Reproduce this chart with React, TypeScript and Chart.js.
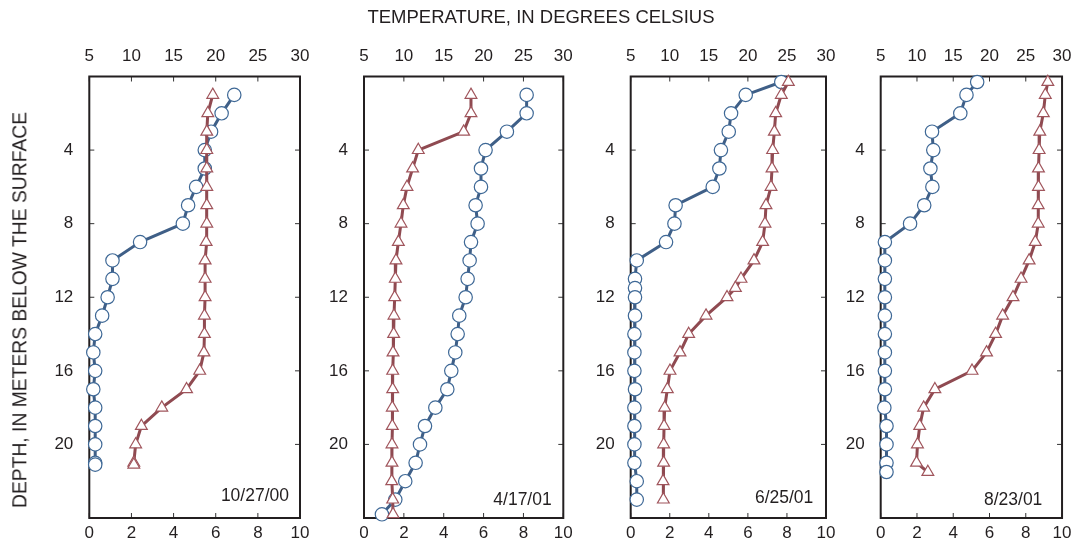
import React, { useEffect, useRef } from "react";
import { Chart, registerables } from "chart.js";
Chart.register(...registerables);

// ---- data ----
const dates = ["10/27/00", "4/17/01", "6/25/01", "8/23/01"];
const oxygenTicks = [0, 2, 4, 6, 8, 10];
const tempTicks = [5, 10, 15, 20, 25, 30];
const depthTicks = [4, 8, 12, 16, 20];

// Panel 1: 10/27/00
const depth1 = [1, 2, 3, 4, 5, 6, 7, 8, 9, 10, 11, 12, 13, 14, 15, 16, 17, 18, 19, 20, 21, 21.1];
const oxygen1 = [6.88, 6.28, 5.78, 5.48, 5.48, 5.07, 4.69, 4.44, 2.41, 1.1, 1.1, 0.87, 0.61, 0.28, 0.19, 0.28, 0.19, 0.28, 0.28, 0.28, 0.28, 0.28];
const temp1 = [19.65, 19.06, 18.94, 18.94, 18.94, 18.94, 18.94, 18.94, 18.86, 18.74, 18.74, 18.74, 18.66, 18.66, 18.6, 18.1, 16.54, 13.6, 11.18, 10.5, 10.28, 10.28];

// Panel 2: 4/17/01
const depth2 = [1, 2, 3, 4, 5, 6, 7, 8, 9, 10, 11, 12, 13, 14, 15, 16, 17, 18, 19, 20, 21, 22, 23, 23.8];
const oxygen2 = [8.16, 8.16, 7.17, 6.1, 5.87, 5.87, 5.6, 5.7, 5.37, 5.3, 5.2, 5.1, 4.78, 4.7, 4.58, 4.38, 4.18, 3.58, 3.06, 2.81, 2.59, 2.07, 1.57, 0.9];
const temp2 = [18.42, 18.42, 17.5, 11.81, 11.1, 10.39, 9.93, 9.64, 9.31, 9.01, 8.93, 8.85, 8.76, 8.72, 8.64, 8.6, 8.6, 8.55, 8.55, 8.51, 8.51, 8.48, 8.6, 8.64];

// Panel 3: 6/25/01
const depth3 = [0.3, 1, 2, 3, 4, 5, 6, 7, 8, 9, 10, 11, 11.5, 12, 13, 14, 15, 16, 17, 18, 19, 20, 21, 22, 23];
const oxygen3 = [7.71, 5.89, 5.14, 5.02, 4.62, 4.54, 4.2, 2.3, 2.24, 1.81, 0.31, 0.22, 0.22, 0.22, 0.22, 0.19, 0.19, 0.19, 0.22, 0.19, 0.19, 0.19, 0.19, 0.31, 0.31];
const temp3 = [25.18, 24.28, 23.56, 23.39, 23.17, 23.09, 22.96, 22.32, 22.19, 21.89, 20.78, 19.12, 18.4, 17.33, 14.64, 12.42, 11.31, 10.03, 9.69, 9.35, 9.27, 9.22, 9.22, 9.14, 9.18];

// Panel 4: 8/23/01
const depth4 = [0.3, 1, 2, 3, 4, 5, 6, 7, 8, 9, 10, 11, 12, 13, 14, 15, 16, 17, 18, 19, 20, 21, 21.5];
const oxygen4 = [5.32, 4.73, 4.39, 2.83, 2.9, 2.74, 2.85, 2.4, 1.62, 0.23, 0.23, 0.23, 0.23, 0.23, 0.23, 0.23, 0.23, 0.23, 0.2, 0.32, 0.32, 0.32, 0.32];
const temp4 = [28.04, 27.69, 27.42, 26.93, 26.84, 26.75, 26.75, 26.71, 26.71, 26.31, 25.46, 24.35, 23.24, 21.81, 20.84, 19.59, 17.59, 12.47, 10.92, 10.38, 10.07, 9.94, 11.5];

const depths = [depth1, depth2, depth3, depth4];
const oxygens = [oxygen1, oxygen2, oxygen3, oxygen4];
const temps = [temp1, temp2, temp3, temp4];

// ---- layout (plot-area boxes in page pixels) ----
const W = 1081;
const H = 546;
const Y_AXIS_W = 60;
const TOP_AXIS_H = 40;
const BOTTOM_AXIS_H = 27;
const boxes = [
  { left: 89.3, right: 300, top: 76.5, bottom: 518, labelInset: 11, labelUp: 22 },
  { left: 364, right: 563.3, top: 76.5, bottom: 518, labelInset: 11.6, labelUp: 18 },
  { left: 630.7, right: 826, top: 76.5, bottom: 518, labelInset: 12.7, labelUp: 19.7 },
  { left: 880.7, right: 1068, top: 76.5, bottom: 518, labelInset: 19.7, labelUp: 18 },
];

const FONT = "'Liberation Sans', Arial, Helvetica, sans-serif";
const INK = "#231f20";
const BLUE_LINE = "#3f5f87";
const BLUE_PT = "#3e6896";
const RED_LINE = "#8f4a51";
const RED_PT = "#a0555c";

const framePlugin = {
  id: "frame",
  beforeDatasetsDraw(chart: any, _args: any, opts: any) {
    const { ctx, chartArea: a, scales } = chart;
    ctx.save();
    const L = 5;
    ctx.strokeStyle = "#333";
    ctx.lineWidth = 1;
    ctx.beginPath();
    scales.x.ticks.forEach((t: any) => {
      const px = scales.x.getPixelForValue(t.value);
      ctx.moveTo(px, a.bottom);
      ctx.lineTo(px, a.bottom - L);
    });
    scales.x2.ticks.forEach((t: any) => {
      const px = scales.x2.getPixelForValue(t.value);
      ctx.moveTo(px, a.top);
      ctx.lineTo(px, a.top + L);
    });
    scales.y.ticks.forEach((t: any) => {
      const py = scales.y.getPixelForValue(t.value);
      ctx.moveTo(a.left, py);
      ctx.lineTo(a.left + L, py);
      ctx.moveTo(a.right, py);
      ctx.lineTo(a.right - L, py);
    });
    ctx.stroke();
    ctx.strokeStyle = INK;
    ctx.lineWidth = 2;
    ctx.strokeRect(a.left, a.top, a.right - a.left, a.bottom - a.top);
    ctx.fillStyle = INK;
    ctx.font = `17.5px ${FONT}`;
    ctx.textAlign = "right";
    ctx.textBaseline = "middle";
    ctx.fillText(opts.label, a.right - opts.inset, a.bottom - opts.up);
    ctx.restore();
  },
};

function Panel({ idx }: { idx: number }) {
  const ref = useRef<HTMLCanvasElement>(null);
  useEffect(() => {
    const b = boxes[idx];
    const tickFont = { family: FONT, size: 17 };
    const chart = new Chart(ref.current as HTMLCanvasElement, {
      type: "scatter",
      data: {
        datasets: [
          {
            label: "Temperature",
            data: depths[idx].map((d, i) => ({ x: temps[idx][i], y: d })),
            xAxisID: "x2",
            yAxisID: "y",
            showLine: true,
            borderColor: RED_LINE,
            borderWidth: 3,
            pointStyle: "triangle",
            pointRadius: 6.8,
            pointBackgroundColor: "#ffffff",
            pointBorderColor: RED_PT,
            pointBorderWidth: 1.2,
            clip: false,
          } as any,
          {
            label: "Dissolved oxygen",
            data: depths[idx].map((d, i) => ({ x: oxygens[idx][i], y: d })),
            xAxisID: "x",
            yAxisID: "y",
            showLine: true,
            borderColor: BLUE_LINE,
            borderWidth: 3,
            pointStyle: "circle",
            pointRadius: 6.7,
            pointBackgroundColor: "#ffffff",
            pointBorderColor: BLUE_PT,
            pointBorderWidth: 1.2,
            clip: false,
          } as any,
        ],
      },
      options: {
        animation: false,
        responsive: false,
        devicePixelRatio: 1,
        layout: {
          padding: {
            left: b.left - Y_AXIS_W,
            right: W - b.right,
            top: b.top - TOP_AXIS_H,
            bottom: H - b.bottom - BOTTOM_AXIS_H,
          },
        },
        plugins: {
          legend: { display: false },
          tooltip: { enabled: false },
          frame: { label: dates[idx], inset: b.labelInset, up: b.labelUp },
        } as any,
        scales: {
          x: {
            type: "linear",
            position: "bottom",
            min: 0,
            max: 10,
            afterBuildTicks: (s: any) => {
              s.ticks = oxygenTicks.map((v) => ({ value: v }));
            },
            afterFit: (s: any) => {
              s.height = BOTTOM_AXIS_H;
            },
            ticks: { padding: 5.5, font: tickFont, color: INK, autoSkip: false, maxRotation: 0 },
            grid: { display: false, drawTicks: false },
            border: { display: false },
          },
          x2: {
            type: "linear",
            position: "top",
            min: 5,
            max: 30,
            afterBuildTicks: (s: any) => {
              s.ticks = tempTicks.map((v) => ({ value: v }));
            },
            afterFit: (s: any) => {
              s.height = TOP_AXIS_H;
            },
            ticks: { padding: 9.5, font: tickFont, color: INK, autoSkip: false, maxRotation: 0 },
            grid: { display: false, drawTicks: false },
            border: { display: false },
          },
          y: {
            type: "linear",
            position: "left",
            reverse: true,
            min: 0,
            max: 24,
            afterBuildTicks: (s: any) => {
              s.ticks = depthTicks.map((v) => ({ value: v }));
            },
            afterFit: (s: any) => {
              s.width = Y_AXIS_W;
            },
            ticks: { padding: 16, font: tickFont, color: INK, autoSkip: false },
            grid: { display: false, drawTicks: false },
            border: { display: false },
          },
        },
      } as any,
      plugins: [framePlugin],
    });
    return () => chart.destroy();
  }, [idx]);
  return (
    <canvas
      ref={ref}
      width={W}
      height={H}
      style={{ position: "absolute", left: 0, top: 0, width: W, height: H }}
    />
  );
}

export default function App() {
  return (
    <div
      style={{
        position: "absolute",
        left: 0,
        top: 0,
        width: W,
        height: H,
        background: "#ffffff",
        fontFamily: FONT,
        color: INK,
        overflow: "hidden",
      }}
    >
      {[0, 1, 2, 3].map((i) => (
        <Panel key={i} idx={i} />
      ))}
      <div
        style={{
          position: "absolute",
          left: 541,
          top: 17,
          transform: "translate(-50%, -50%)",
          fontSize: 18.5,
          whiteSpace: "nowrap",
          lineHeight: 1,
        }}
      >
        TEMPERATURE, IN DEGREES CELSIUS
      </div>
      <div
        style={{
          position: "absolute",
          left: 19.5,
          top: 310,
          transform: "translate(-50%, -50%) rotate(-90deg)",
          fontSize: 19.3,
          whiteSpace: "nowrap",
          lineHeight: 1,
        }}
      >
        DEPTH, IN METERS BELOW THE SURFACE
      </div>
    </div>
  );
}
